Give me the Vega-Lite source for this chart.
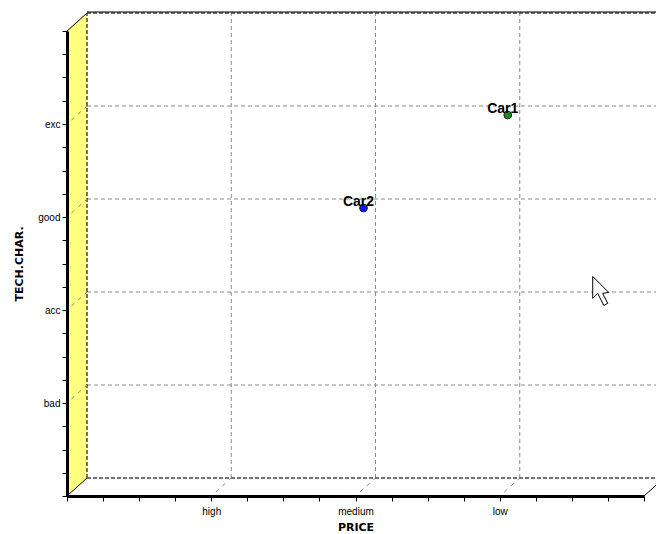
{
  "$schema": "https://vega.github.io/schema/vega-lite/v6.json",
  "autosize": "none",
  "width": 577,
  "height": 465,
  "padding": {"left": 67, "top": 31, "right": 12, "bottom": 38},
  "background": "white",
  "config": {"view": {"stroke": null}, "font": "Liberation Sans"},
  "layer": [
    {
      "data": {"values": [{"x": 0, "y": 2.5}]},
      "mark": {"type": "point", "shape": "M-0.0414,1L-0.0414,-0.9255L0.0414,-1L0.0414,0.9255Z", "size": 233289, "filled": true, "fill": "#ffff80", "opacity": 1, "strokeWidth": 0, "xOffset": 10, "yOffset": -9},
      "encoding": {
        "x": {
          "field": "x", "type": "quantitative", "title": "PRICE", "scale": {"domain": [0, 4], "nice": false, "zero": false},
          "axis": {
            "values": [0, 0.25, 0.5, 0.75, 1, 1.25, 1.5, 1.75, 2, 2.25, 2.5, 2.75, 3, 3.25, 3.5, 3.75, 4],
            "tickCount": 100,
            "labelExpr": "datum.value == 1 ? 'high' : datum.value == 2 ? 'medium' : datum.value == 3 ? 'low' : ''",
            "title": "PRICE", "grid": false, "zindex": 2,
            "domainColor": "#000000", "domainWidth": 3,
            "tickColor": "#000000", "tickSize": 5, "tickWidth": 1,
            "labelFontSize": 10, "labelColor": "#000000", "labelPadding": 5, "labelFlush": false, "labelOverlap": false,
            "titleFont": "DejaVu Sans", "titleFontSize": 11, "titleFontWeight": "bold", "titleColor": "#000000", "titlePadding": 5
          }
        },
        "y": {
          "field": "y", "type": "quantitative", "title": "TECH.CHAR.", "scale": {"domain": [0, 5], "nice": false, "zero": false},
          "axis": {
            "values": [0, 0.25, 0.5, 0.75, 1, 1.25, 1.5, 1.75, 2, 2.25, 2.5, 2.75, 3, 3.25, 3.5, 3.75, 4, 4.25, 4.5, 4.75, 5],
            "tickCount": 100,
            "labelExpr": "datum.value == 1 ? 'bad' : datum.value == 2 ? 'acc' : datum.value == 3 ? 'good' : datum.value == 4 ? 'exc' : ''",
            "title": "TECH.CHAR.", "grid": false, "zindex": 2,
            "domainColor": "#000000", "domainWidth": 3,
            "tickColor": "#000000", "tickSize": 5, "tickWidth": 1,
            "labelFontSize": 10, "labelColor": "#000000", "labelPadding": 2, "labelFlush": false, "labelOverlap": false,
            "titleFont": "DejaVu Sans", "titleFontSize": 11, "titleFontWeight": "bold", "titleColor": "#000000", "titlePadding": 13
          }
        }
      }
    },
    {
      "data": {"values": [{"x": 1}, {"x": 2}, {"x": 3}]},
      "mark": {"type": "rule", "color": "#8a8a8a", "strokeDash": [4, 3], "strokeWidth": 1, "xOffset": 20, "x2Offset": 20, "yOffset": -18, "y2Offset": -18},
      "encoding": {
        "x": {"field": "x", "type": "quantitative", "title": "PRICE", "scale": {"domain": [0, 4]}},
        "y": {"datum": 0, "title": "TECH.CHAR.", "scale": {"domain": [0, 5]}},
        "y2": {"datum": 5}
      }
    },
    {
      "data": {"values": [{"y": 1}, {"y": 2}, {"y": 3}, {"y": 4}]},
      "mark": {"type": "rule", "color": "#8a8a8a", "strokeDash": [4, 3], "strokeWidth": 1, "xOffset": 20, "x2Offset": 20, "yOffset": -18, "y2Offset": -18},
      "encoding": {
        "y": {"field": "y", "type": "quantitative", "title": "TECH.CHAR.", "scale": {"domain": [0, 5]}},
        "x": {"datum": 0, "title": "PRICE", "scale": {"domain": [0, 4]}},
        "x2": {"datum": 4.3}
      }
    },
    {
      "data": {"values": [{"y": 0}, {"y": 5}]},
      "mark": {"type": "rule", "color": "#444444", "strokeDash": [4, 2], "strokeWidth": 1.5, "xOffset": 20, "x2Offset": 20, "yOffset": -18, "y2Offset": -18},
      "encoding": {
        "y": {"field": "y", "type": "quantitative", "title": "TECH.CHAR.", "scale": {"domain": [0, 5]}},
        "x": {"datum": 0, "title": "PRICE", "scale": {"domain": [0, 4]}},
        "x2": {"datum": 4.3}
      }
    },
    {
      "data": {"values": [{"x": 0}]},
      "mark": {"type": "rule", "color": "#444444", "strokeDash": [4, 2], "strokeWidth": 1.5, "xOffset": 20, "x2Offset": 20, "yOffset": -18, "y2Offset": -18},
      "encoding": {
        "x": {"field": "x", "type": "quantitative", "title": "PRICE", "scale": {"domain": [0, 4]}},
        "y": {"datum": 0, "title": "TECH.CHAR.", "scale": {"domain": [0, 5]}},
        "y2": {"datum": 5}
      }
    },
    {
      "data": {"values": [{"y": 5}]},
      "mark": {"type": "rule", "color": "#000000", "strokeWidth": 1, "xOffset": 20, "x2Offset": 20, "yOffset": -19, "y2Offset": -19},
      "encoding": {
        "y": {"field": "y", "type": "quantitative", "title": "TECH.CHAR.", "scale": {"domain": [0, 5]}},
        "x": {"datum": 0, "title": "PRICE", "scale": {"domain": [0, 4]}},
        "x2": {"datum": 4.3}
      }
    },
    {
      "data": {"values": [{"x": 1}, {"x": 2}, {"x": 3}]},
      "mark": {"type": "rule", "color": "#8a8a8a", "strokeDash": [4, 5], "strokeDashOffset": -6, "strokeWidth": 1, "xOffset": 0, "x2Offset": 20, "yOffset": 0, "y2Offset": -18},
      "encoding": {
        "x": {"field": "x", "type": "quantitative", "title": "PRICE", "scale": {"domain": [0, 4]}},
        "x2": {"field": "x"},
        "y": {"datum": 0, "title": "TECH.CHAR.", "scale": {"domain": [0, 5]}},
        "y2": {"datum": 0}
      }
    },
    {
      "data": {"values": [{"y": 1}, {"y": 2}, {"y": 3}, {"y": 4}]},
      "mark": {"type": "rule", "color": "#8a8a8a", "strokeDash": [4, 5], "strokeDashOffset": -6, "strokeWidth": 1, "xOffset": 0, "x2Offset": 20, "yOffset": 0, "y2Offset": -18},
      "encoding": {
        "y": {"field": "y", "type": "quantitative", "title": "TECH.CHAR.", "scale": {"domain": [0, 5]}},
        "y2": {"field": "y"},
        "x": {"datum": 0, "title": "PRICE", "scale": {"domain": [0, 4]}},
        "x2": {"datum": 0}
      }
    },
    {
      "data": {"values": [{"x": 0}, {"x": 4}]},
      "mark": {"type": "rule", "color": "#000000", "strokeWidth": 1, "xOffset": 0, "x2Offset": 20, "yOffset": 0, "y2Offset": -18},
      "encoding": {
        "x": {"field": "x", "type": "quantitative", "title": "PRICE", "scale": {"domain": [0, 4]}},
        "x2": {"field": "x"},
        "y": {"datum": 0, "title": "TECH.CHAR.", "scale": {"domain": [0, 5]}},
        "y2": {"datum": 0}
      }
    },
    {
      "data": {"values": [{"y": 5}]},
      "mark": {"type": "rule", "color": "#000000", "strokeWidth": 1, "xOffset": 0, "x2Offset": 20, "yOffset": 0, "y2Offset": -18},
      "encoding": {
        "y": {"field": "y", "type": "quantitative", "title": "TECH.CHAR.", "scale": {"domain": [0, 5]}},
        "y2": {"field": "y"},
        "x": {"datum": 0, "title": "PRICE", "scale": {"domain": [0, 4]}},
        "x2": {"datum": 0}
      }
    },
    {
      "data": {"values": [{"car": "Car1", "price": 3, "tech": 4}, {"car": "Car2", "price": 2, "tech": 3}]},
      "mark": {"type": "point", "filled": true, "size": 60, "opacity": 1, "stroke": "#1a1a1a", "strokeWidth": 1, "xOffset": 8, "yOffset": -9},
      "encoding": {
        "x": {"field": "price", "type": "quantitative", "title": "PRICE", "scale": {"domain": [0, 4]}},
        "y": {"field": "tech", "type": "quantitative", "title": "TECH.CHAR.", "scale": {"domain": [0, 5]}},
        "fill": {"field": "car", "type": "nominal", "scale": {"domain": ["Car1", "Car2"], "range": ["#1e8a1e", "#0a1cff"]}, "legend": null}
      }
    },
    {
      "data": {"values": [{"car": "Car1", "price": 3, "tech": 4}, {"car": "Car2", "price": 2, "tech": 3}]},
      "mark": {"type": "text", "fontWeight": "bold", "fontSize": 14, "color": "#000000", "align": "center", "baseline": "alphabetic", "xOffset": 3, "yOffset": -9, "dy": -2},
      "encoding": {
        "x": {"field": "price", "type": "quantitative", "title": "PRICE", "scale": {"domain": [0, 4]}},
        "y": {"field": "tech", "type": "quantitative", "title": "TECH.CHAR.", "scale": {"domain": [0, 5]}},
        "text": {"field": "car"}
      }
    },
    {
      "data": {"values": [{"x": 3.7, "y": 2.2}]},
      "mark": {"type": "point", "shape": "M-0.533,-1L-0.533,0.467L-0.2,0.133L0.2,0.933L0.467,0.8L0.133,0.133L0.533,0.067Z", "size": 900, "filled": true, "fill": "#ffffff", "stroke": "#000000", "strokeWidth": 1, "opacity": 1},
      "encoding": {
        "x": {"field": "x", "type": "quantitative", "title": "PRICE", "scale": {"domain": [0, 4]}},
        "y": {"field": "y", "type": "quantitative", "title": "TECH.CHAR.", "scale": {"domain": [0, 5]}}
      }
    }
  ]
}
